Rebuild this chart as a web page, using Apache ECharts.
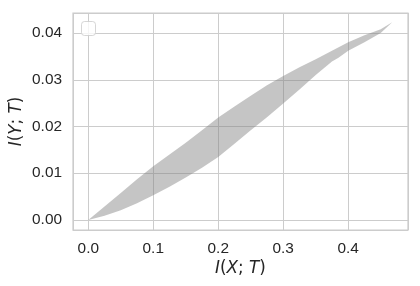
<!DOCTYPE html>
<html>
<head>
<meta charset="utf-8">
<script src="https://cdn.jsdelivr.net/npm/echarts@6/dist/echarts.min.js"></script>
<style>html,body{margin:0;padding:0;background:#fff;}#c{width:420px;height:286px;}</style>
</head>
<body>
<div id="c"></div>
<script>
// Upper boundary of the band
var xUpper = [0, 0.025, 0.05, 0.075, 0.1, 0.125, 0.15, 0.175, 0.2, 0.225, 0.25, 0.275, 0.3, 0.325, 0.35, 0.375, 0.4, 0.425, 0.45, 0.4677];
var yUpper = [0, 0.0029, 0.0058, 0.0087, 0.0115, 0.0140, 0.0165, 0.0192, 0.0219, 0.0243, 0.0266, 0.0288, 0.0308, 0.0327, 0.0344, 0.0362, 0.0380, 0.0395, 0.0408, 0.0423];
// Lower boundary of the band
var xLower = [0, 0.025, 0.05, 0.075, 0.1, 0.125, 0.15, 0.175, 0.2, 0.225, 0.25, 0.275, 0.3, 0.325, 0.35, 0.375, 0.385, 0.4, 0.425, 0.45, 0.4677];
var yLower = [0, 0.0009, 0.0021, 0.0036, 0.0053, 0.0071, 0.0091, 0.0112, 0.0135, 0.0163, 0.0192, 0.0220, 0.0249, 0.0279, 0.0310, 0.0339, 0.0347, 0.0362, 0.0380, 0.0400, 0.0423];

var poly = [];
for (var i = 0; i < xUpper.length; i++) poly.push([xUpper[i], yUpper[i]]);
for (var j = xLower.length - 1; j >= 0; j--) poly.push([xLower[j], yLower[j]]);

var chart = echarts.init(document.getElementById('c'), null, {renderer: 'canvas'});
var txt = '#262626';
var tickFont = 'Liberation Sans, Arial, sans-serif';
chart.setOption({
  animation: false,
  backgroundColor: '#fff',
  grid: {left: 73, right: 12, top: 13, bottom: 56, containLabel: false, outerBoundsMode: 'none',
    show: true, borderColor: '#cccccc', borderWidth: 1.25, backgroundColor: 'transparent'},
  xAxis: {
    type: 'value', min: -0.0235, max: 0.492, splitNumber: 5,
    name: '{i|I}({i|X}; {i|T})', nameLocation: 'middle', nameGap: 30, nameMoveOverlap: false,
    nameTextStyle: {fontSize: 16.8, color: txt, fontFamily: 'DejaVu Sans', rich: {i: {fontStyle: 'italic', fontSize: 16.8, color: txt, fontFamily: 'DejaVu Sans'}}},
    axisLine: {show: false}, axisTick: {show: false},
    axisLabel: {fontSize: 15.4, color: txt, fontFamily: tickFont, margin: 11, showMinLabel: false, showMaxLabel: false,
      formatter: function (v) { return v.toFixed(1); }},
    splitLine: {show: true, lineStyle: {color: '#cccccc', width: 1}}
  },
  yAxis: {
    type: 'value', min: -0.00214, max: 0.04428, splitNumber: 5,
    name: '{i|I}({i|Y}; {i|T})', nameLocation: 'middle', nameGap: 48, nameMoveOverlap: false,
    nameTextStyle: {fontSize: 16.8, color: txt, fontFamily: 'DejaVu Sans', rich: {i: {fontStyle: 'italic', fontSize: 16.8, color: txt, fontFamily: 'DejaVu Sans'}}},
    axisLine: {show: false}, axisTick: {show: false},
    axisLabel: {fontSize: 15.4, color: txt, fontFamily: tickFont, margin: 11, showMinLabel: false, showMaxLabel: false,
      formatter: function (v) { return v.toFixed(2); }},
    splitLine: {show: true, lineStyle: {color: '#cccccc', width: 1}}
  },
  graphic: [{
    type: 'rect', left: 81, top: 21, z: 100,
    shape: {width: 14, height: 14, r: 3},
    style: {fill: 'rgba(255,255,255,0.8)', stroke: 'rgba(204,204,204,0.8)', lineWidth: 1}
  }],
  series: [{
    type: 'custom',
    data: poly,
    encode: {x: 0, y: 1},
    renderItem: function (params, api) {
      if (params.dataIndex !== 0) return null;
      var pts = poly.map(function (p) { return api.coord(p); });
      return {
        type: 'polygon',
        shape: {points: pts},
        style: {fill: 'rgba(128,128,128,0.46)'}
      };
    }
  }]
});
</script>
</body>
</html>
